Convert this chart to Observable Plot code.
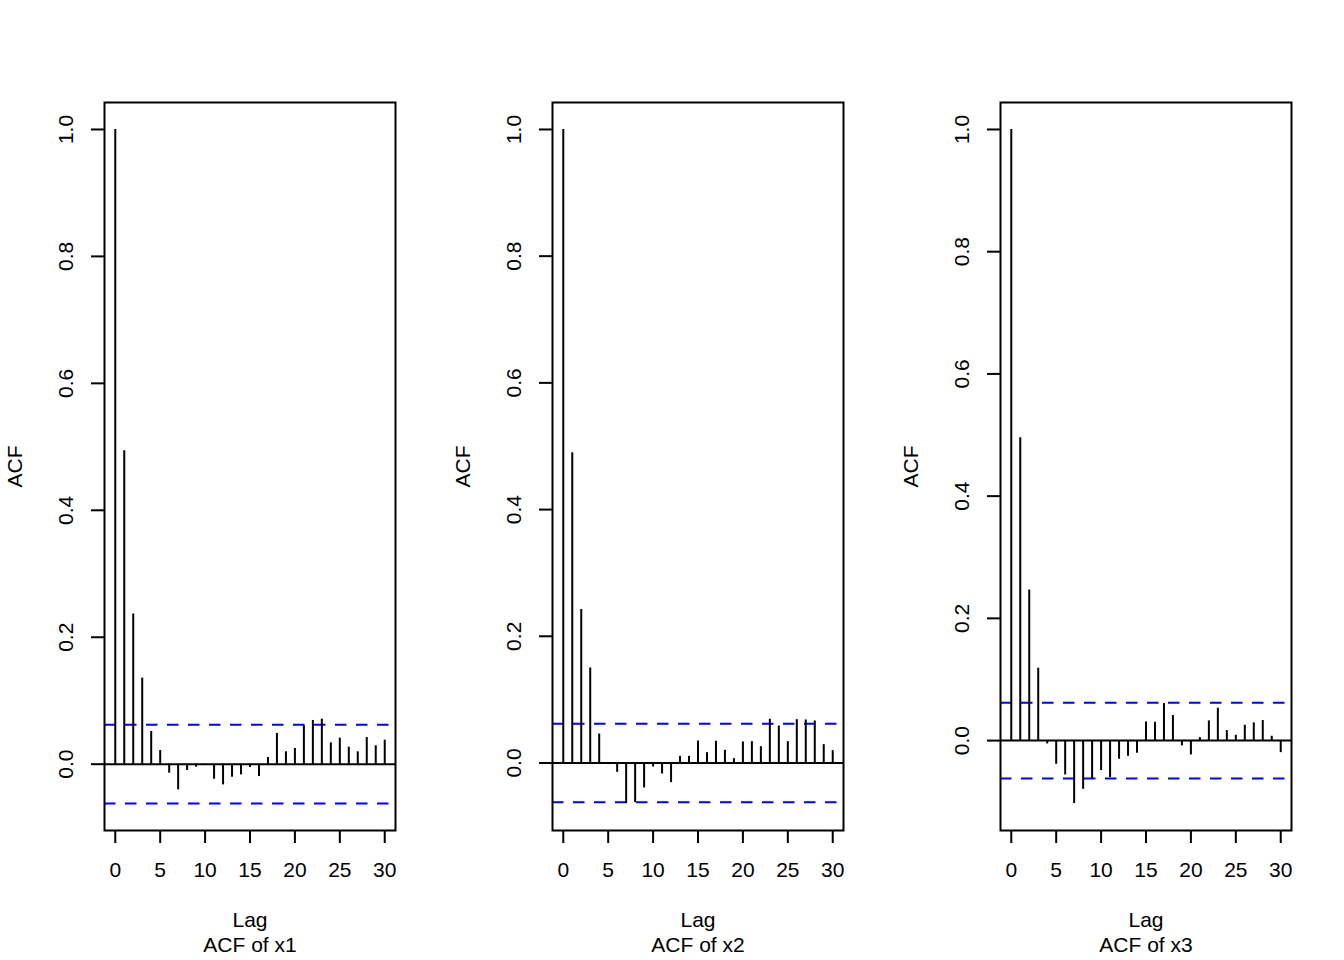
<!DOCTYPE html>
<html>
<head>
<meta charset="utf-8">
<script src="https://cdn.jsdelivr.net/npm/d3@7"></script>
<script src="https://cdn.jsdelivr.net/npm/@observablehq/plot@0.6"></script>
<style>
  html, body { margin: 0; padding: 0; background: #fff; }
  #row { display: flex; flex-direction: row; width: 1344px; height: 960px; }
  #row svg { display: block; }
</style>
</head>
<body>
<div id="row"></div>
<script>
// Lags 0..30
const lags = d3.range(0, 31);

// ACF values
const acfX1 = [1, 0.494, 0.2366, 0.1356, 0.0515, 0.0216, -0.0142, -0.0405, -0.010, -0.0047,
  -0.0008, -0.0237, -0.0326, -0.0205, -0.0168, -0.0053, -0.0195, 0.0105, 0.0484, 0.0195,
  0.0247, 0.0605, 0.0689, 0.071, 0.0336, 0.041, 0.0268, 0.0195, 0.042, 0.029, 0.0379];
const acfX2 = [1, 0.4897, 0.2423, 0.150, 0.0458, -0.0026, -0.0147, -0.064, -0.0626, -0.0395,
  -0.0063, -0.0174, -0.031, 0.0105, 0.0105, 0.0347, 0.0163, 0.0342, 0.020, 0.0068,
  0.0332, 0.0337, 0.0258, 0.069, 0.0584, 0.0337, 0.0684, 0.0679, 0.0663, 0.029, 0.0195];
const acfX3 = [1, 0.4957, 0.2463, 0.1185, -0.0055, -0.0388, -0.0562, -0.103, -0.0797, -0.0622,
  -0.0491, -0.0606, -0.0306, -0.0257, -0.0207, 0.0306, 0.030, 0.0606, 0.041, -0.0087,
  -0.0235, 0.0049, 0.0322, 0.053, 0.0164, 0.0087, 0.0251, 0.029, 0.0328, 0.0071, -0.0197];

const seriesNames = ["x1", "x2", "x3"];
const seriesValues = [acfX1, acfX2, acfX3];

// 95% bound (1.96/sqrt(n))
const ciBound = 0.062;

const xTicks = [0, 5, 10, 15, 20, 25, 30];
const yTicks = [0, 0.2, 0.4, 0.6, 0.8, 1.0];

const FONT = "'Liberation Sans', Arial, Helvetica, sans-serif";
const FS = 21;

function rExtend([a, b]) {
  const e = 0.04 * (b - a);
  return [a - e, b + e];
}

const row = document.getElementById("row");

seriesNames.forEach((name, i) => {
  const vals = seriesValues[i];
  const data = lags.map((lag, j) => ({lag, acf: vals[j]}));
  const yLo = Math.min(-ciBound, d3.min(vals));
  const yHi = Math.max(ciBound, d3.max(vals));
  const chart = Plot.plot({
    width: 448,
    height: 960,
    marginLeft: 104,
    marginRight: 53,
    marginTop: 102,
    marginBottom: 130,
    style: {fontFamily: FONT, fontSize: FS + "px", background: "#fff", color: "#000"},
    x: {domain: rExtend([d3.min(lags), d3.max(lags)])},
    y: {domain: rExtend([yLo, yHi])},
    marks: [
      Plot.ruleY([ciBound, -ciBound], {stroke: "#0000FF", strokeWidth: 2, strokeDasharray: "11.5,9.5"}),
      Plot.ruleY([0], {stroke: "#000", strokeWidth: 2}),
      Plot.ruleX(data, {x: "lag", y1: 0, y2: "acf", stroke: "#000", strokeWidth: 2}),
      Plot.frame({stroke: "#000", strokeWidth: 2}),
      Plot.axisX({ticks: xTicks, tickSize: 13, tickPadding: 19, fontSize: FS,
        strokeWidth: 2, label: null, tickFormat: d => String(d)}),
      Plot.axisY({ticks: yTicks, tickSize: 13, tickPadding: 19, fontSize: FS, tickRotate: -90,
        strokeWidth: 2, label: null, tickFormat: d3.format(".1f")}),
      Plot.text(["ACF"], {frameAnchor: "left", textAnchor: "middle", dx: -89, rotate: -90, fontSize: FS, fill: "#000"}),
      Plot.text(["Lag"], {frameAnchor: "bottom", dy: 96, fontSize: FS, fill: "#000"}),
      Plot.text([`ACF of ${name}`], {frameAnchor: "bottom", dy: 121, fontSize: FS, fill: "#000"})
    ]
  });
  row.appendChild(chart);
});
</script>
</body>
</html>
